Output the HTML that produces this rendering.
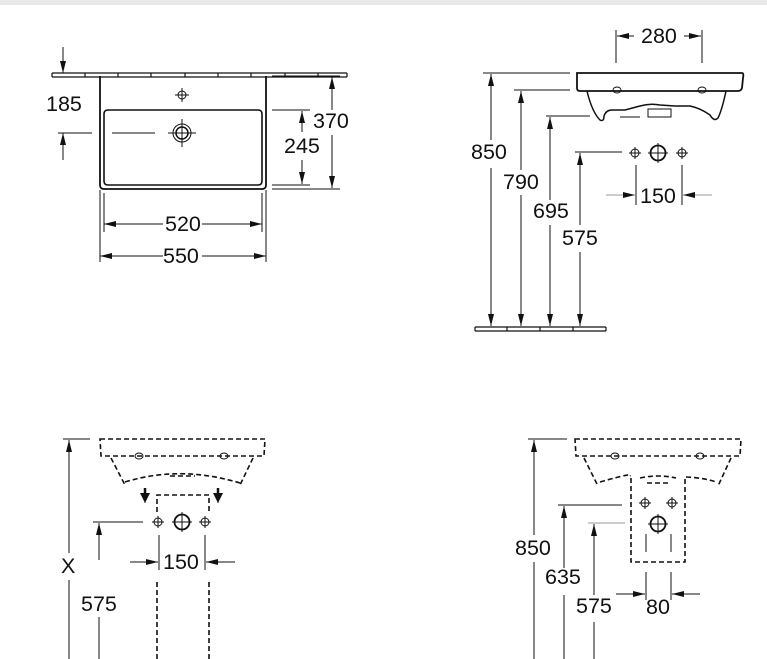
<!DOCTYPE html>
<html><head><meta charset="utf-8"><style>
html,body{margin:0;padding:0;background:#fff;width:767px;height:659px;overflow:hidden}
svg{display:block}
text{font-family:"Liberation Sans",sans-serif;font-size:21.5px;fill:#111}
</style></head><body>
<svg width="767" height="659" viewBox="0 0 767 659" xmlns="http://www.w3.org/2000/svg">
<defs>
<marker id="b" viewBox="0 0 12 6" refX="12" refY="3" markerWidth="12" markerHeight="6" orient="auto-start-reverse" markerUnits="userSpaceOnUse"><path d="M0,0 L12,3 L0,6z" fill="#111"/></marker>
<marker id="c" viewBox="0 0 10 10" refX="10" refY="5" markerWidth="10" markerHeight="10" orient="auto" markerUnits="userSpaceOnUse"><path d="M0,0 L10,5 L0,10z" fill="#111"/></marker>
</defs>
<rect x="0" y="0" width="767" height="5" fill="#e8e8e8"/>
<g stroke="#111" fill="none" stroke-width="1">
<!-- TOP LEFT -->
<g stroke-width="1.2">
<path d="M52,73 H347 M52,77 H347"/>
<path d="M52,73 V77 M85,73 V77 M118,73 V77 M151,73 V77 M185,73 V77 M218,73 V77 M251,73 V77 M285,73 V77 M318,73 V77 M347,73 V77"/>
</g>
<path d="M100,76 V185 Q100,189 104,189 H262 Q266,189 266,185 V76" stroke-width="1.8"/>
<path d="M108,110 H258 Q262,110 262,114 V181 Q262,185 258,185 H108 Q104,185 104,181 V114 Q104,110 108,110Z" stroke-width="1.6"/>
<circle cx="182" cy="95" r="4"/><path d="M175,95 H189 M182,88 V102"/>
<circle cx="182" cy="133" r="9"/><circle cx="182" cy="133" r="6" stroke-width="1.5"/><path d="M168,133 H196 M182,119 V147"/>
<path d="M112,133 H155"/>
<path d="M63,47 V73" marker-end="url(#b)"/><path d="M63,160 V133" marker-end="url(#b)"/><path d="M58,133 H92"/>
<path d="M272,76 H340 M272,110 H310 M272,189 H340 M272,185 H310"/>
<path d="M332,78 V110 M332,135 V187" /><path d="M332,100 V77" marker-end="url(#b)"/><path d="M332,168 V188" marker-end="url(#b)"/>
<path d="M302,132 V111" marker-end="url(#b)"/><path d="M302,160 V184" marker-end="url(#b)"/>
<path d="M100,190 V262 M266,190 V262 M104,193 V232 M262,193 V232"/>
<path d="M163,224 H104" marker-end="url(#b)"/><path d="M202,224 H262" marker-end="url(#b)"/>
<path d="M163,256 H100" marker-end="url(#b)"/><path d="M202,256 H266" marker-end="url(#b)"/>
<!-- TOP RIGHT -->
<path d="M616,30 V63 M702,30 V63"/>
<path d="M634,36 H617" marker-end="url(#b)"/><path d="M684,36 H701" marker-end="url(#b)"/>
<path d="M577,73 H742 Q744,73 743,78 L742,88 Q741,91 738,91 H580 Q577,91 577,88 Z" stroke-width="1.8"/>
<path d="M587,91 Q592,112 600,120 Q604,122 604,116 Q606,110 612,110 H625 L640,106 Q650,103 660,105 L675,106 H690 Q700,108 710,115 Q714,122 718,118 Q722,110 726,91" stroke-width="1.5"/>
<path d="M648,109 H671 V117 H648Z"/>
<ellipse cx="617" cy="90" rx="4" ry="3"/><ellipse cx="702" cy="90" rx="4" ry="3"/>
<path d="M483,73 H570 M514,90 H570 M546,116 H590 M620,117 H640 M575,152 H622"/>
<path d="M491,110 V74" marker-end="url(#b)"/><path d="M491,290 V326" marker-end="url(#b)"/><path d="M491,110 V140 M491,168 V290"/>
<path d="M521,120 V91" marker-end="url(#b)"/><path d="M521,290 V326" marker-end="url(#b)"/><path d="M521,120 V170 M521,195 V290"/>
<path d="M550,150 V117" marker-end="url(#b)"/><path d="M550,290 V326" marker-end="url(#b)"/><path d="M550,150 V200 M550,225 V290"/>
<path d="M580,185 V153" marker-end="url(#b)"/><path d="M580,290 V326" marker-end="url(#b)"/><path d="M580,185 V225 M580,252 V290"/>
<path d="M475,327 H606 M475,331 H606 M475,327 V331 M507,327 V331 M540,327 V331 M573,327 V331 M606,327 V331" stroke-width="1.2"/>
<circle cx="635" cy="153" r="4"/><path d="M629,153 H641 M635,147 V159"/>
<circle cx="658" cy="153" r="7.5" stroke-width="1.8"/><path d="M648,153 H668 M658,143 V163"/>
<circle cx="682" cy="153" r="4"/><path d="M676,153 H688 M682,147 V159"/>
<path d="M636,165 V205 M682,165 V205"/>
<path d="M606,195 H635" marker-end="url(#b)" stroke="#999"/><path d="M712,195 H683" marker-end="url(#b)" stroke="#999"/>
<!-- BOTTOM LEFT -->
<g stroke-dasharray="5,3" stroke-width="1.6">
<path d="M100,439 H265 L264,456 H101 Z"/>
<path d="M111,458 L125,485 M253,458 L240,485"/>
<path d="M125,482 Q180,465 240,483"/>
<path d="M170,476 H195"/>
<path d="M157,512 V495 H209 V512"/>
<path d="M157,582 V659 M209,582 V659"/>
</g>
<ellipse cx="139" cy="456" rx="4" ry="3"/><ellipse cx="224" cy="456" rx="4" ry="3"/>
<path d="M145,488 V496" stroke-width="2.5"/><path d="M145,495 V503" marker-end="url(#c)"/>
<path d="M218,488 V496" stroke-width="2.5"/><path d="M218,495 V503" marker-end="url(#c)"/>
<circle cx="158" cy="522" r="4"/><path d="M152,522 H164 M158,516 V528"/>
<circle cx="182" cy="522" r="7.5" stroke-width="1.8"/><path d="M172,522 H192 M182,512 V532"/>
<circle cx="205" cy="522" r="4"/><path d="M199,522 H211 M205,516 V528"/>
<path d="M93,522 H143"/>
<path d="M99,560 V523" marker-end="url(#b)"/><path d="M99,617 V659"/>
<path d="M63,439 H90"/>
<path d="M69,480 V440" marker-end="url(#b)"/><path d="M69,480 V553 M69,580 V659"/>
<path d="M159,535 V570 M205,535 V570"/>
<path d="M130,562 H158" marker-end="url(#b)"/><path d="M235,562 H206" marker-end="url(#b)"/>
<!-- BOTTOM RIGHT -->
<g stroke-dasharray="5,3" stroke-width="1.6">
<path d="M575,439 H741 L740,456 H576 Z"/>
<path d="M584,458 L598,486 M731,458 L718,486"/>
<path d="M600,482 Q635,472 630,476 M686,477 Q705,478 716,482"/>
<path d="M640,478 Q658,474 676,478"/>
<path d="M647,483 H670"/>
<path d="M631,478 V562 H685 V478"/>
</g>
<ellipse cx="615" cy="456" rx="4" ry="3"/><ellipse cx="700" cy="456" rx="4" ry="3"/>
<circle cx="645" cy="503" r="4"/><path d="M639,503 H651 M645,497 V509"/>
<circle cx="672" cy="503" r="4"/><path d="M666,503 H678 M672,497 V509"/>
<circle cx="658" cy="524" r="7.5" stroke-width="1.8"/><path d="M648,524 H668 M658,514 V534"/>
<path d="M646,534 V552 M671,534 V552 M646,572 V600 M671,572 V600"/>
<path d="M528,439 H567"/>
<path d="M534,470 V440" marker-end="url(#b)"/><path d="M534,470 V535 M534,562 V659"/>
<path d="M558,505 H622"/>
<path d="M564,540 V506" marker-end="url(#b)"/><path d="M564,540 V568 M564,595 V659"/>
<path d="M588,523 H625" stroke="#999"/>
<path d="M594,560 V524" marker-end="url(#b)"/><path d="M594,560 V595 M594,622 V659"/>
<path d="M616,594 H645" marker-end="url(#b)"/><path d="M700,594 H672" marker-end="url(#b)"/>
</g>
<g>
<text x="46" y="111">185</text>
<text x="313" y="128">370</text>
<text x="284" y="153">245</text>
<text x="165" y="231">520</text>
<text x="163" y="263">550</text>
<text x="641" y="43">280</text>
<text x="471" y="159">850</text>
<text x="503" y="189">790</text>
<text x="533" y="218">695</text>
<text x="562" y="245">575</text>
<text x="640" y="203">150</text>
<text x="61" y="573">X</text>
<text x="163" y="569">150</text>
<text x="81" y="611">575</text>
<text x="515" y="555">850</text>
<text x="545" y="584">635</text>
<text x="576" y="613">575</text>
<text x="646" y="614">80</text>
</g>
</svg>
</body></html>
